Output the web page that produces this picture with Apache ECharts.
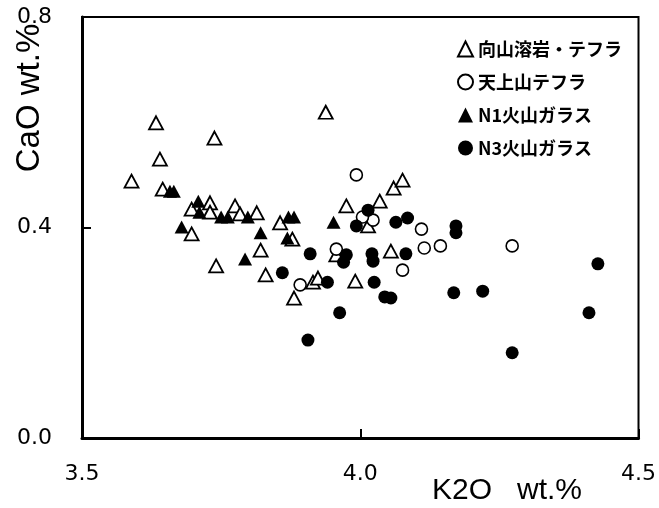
<!DOCTYPE html>
<html>
<head>
<meta charset="utf-8">
<script src="https://cdn.jsdelivr.net/npm/echarts@6/dist/echarts.min.js"></script>
<style>
html,body{margin:0;padding:0;background:#fff;}
#chart{width:659px;height:508px;}
</style>
</head>
<body>
<div id="chart"></div>
<script>
// Series names (legend)
const seriesNames = ['向山溶岩・テフラ', '天上山テフラ', 'N1火山ガラス', 'N3火山ガラス'];

// [K2O wt.%, CaO wt.%]
const mukaiyama = [
  [3.589,0.488],[3.633,0.599],[3.640,0.530],[3.645,0.473],[3.738,0.570],[3.938,0.619],
  [3.697,0.435],[3.730,0.447],[3.730,0.429],[3.775,0.441],[3.784,0.426],[3.814,0.428],
  [3.856,0.409],[3.878,0.378],[3.697,0.388],[3.821,0.357],[3.741,0.327],[3.830,0.310],
  [3.881,0.266],[3.915,0.296],[3.924,0.304],[3.975,0.441],[4.035,0.450],[4.060,0.475],
  [4.076,0.490],[4.014,0.403],[4.055,0.355],[3.957,0.348],[3.991,0.298]
];
const tenjosan = [
  [3.993,0.500],[4.023,0.414],[4.004,0.420],[4.110,0.397],[4.115,0.361],[4.144,0.365],
  [4.273,0.365],[4.076,0.319],[3.957,0.359],[3.892,0.291]
];
const n1Glass = [
  [3.658,0.469],[3.665,0.469],[3.709,0.450],[3.711,0.429],[3.750,0.420],[3.762,0.420],
  [3.798,0.420],[3.871,0.420],[3.881,0.420],[3.679,0.401],[3.821,0.390],[3.869,0.380],
  [3.793,0.340],[3.952,0.410]
];
const n3Glass = [
  [4.014,0.433],[3.993,0.403],[4.064,0.410],[4.085,0.418],[4.172,0.403],[4.172,0.390],
  [3.910,0.350],[3.975,0.348],[3.970,0.334],[4.021,0.350],[4.023,0.336],[4.082,0.350],
  [3.860,0.314],[3.941,0.296],[4.025,0.296],[4.044,0.268],[4.055,0.266],[3.963,0.238],
  [3.906,0.186],[4.168,0.276],[4.220,0.279],[4.273,0.162],[4.411,0.238],[4.427,0.331]
];

const xTicks = { min: 3.5, max: 4.5, interval: 0.5 };
const yTicks = { min: 0.0, max: 0.8, interval: 0.4 };

const chart = echarts.init(document.getElementById('chart'), null, {renderer: 'canvas'});
const tickFont = { fontFamily: 'DejaVu Sans', fontSize: 22, color: '#000' };

chart.setOption({
  animation: false,
  backgroundColor: '#fff',
  grid: { left: 82, right: 13, top: 17, bottom: 70, show: true, borderColor: '#000', borderWidth: 2, backgroundColor: 'transparent' },
  xAxis: {
    type: 'value', min: xTicks.min, max: xTicks.max, interval: xTicks.interval,
    axisLine: { show: true, onZero: false, lineStyle: { color: '#000', width: 3 } },
    axisTick: { show: true, inside: true, length: 9, lineStyle: { color: '#000', width: 2 } },
    splitLine: { show: false },
    axisLabel: Object.assign({ margin: 25, formatter: v => v.toFixed(1) }, tickFont)
  },
  yAxis: {
    type: 'value', min: yTicks.min, max: yTicks.max, interval: yTicks.interval,
    axisLine: { show: true, onZero: false, lineStyle: { color: '#000', width: 3 } },
    axisTick: { show: true, inside: true, length: 9, lineStyle: { color: '#000', width: 2 } },
    splitLine: { show: false },
    axisLabel: Object.assign({ margin: 30, formatter: v => v.toFixed(1) }, tickFont)
  },
  legend: {
    orient: 'vertical', left: 452, top: 34, itemWidth: 15, itemHeight: 15, itemGap: 13,
    data: seriesNames,
    textStyle: { fontFamily: 'Noto Sans CJK JP', fontSize: 18, fontWeight: 'bold', color: '#000', lineHeight: 20 }
  },
  graphic: [
    { type: 'text', x: 30, y: 98, rotation: Math.PI / 2,
      style: { text: 'CaO wt.%', font: '33px "Liberation Sans"', fill: '#000', textAlign: 'center', textVerticalAlign: 'middle' } },
    { type: 'text', x: 432, y: 491,
      style: { text: 'K2O   wt.%', font: '30px "Liberation Sans"', fill: '#000', textAlign: 'left', textVerticalAlign: 'middle' } }
  ],
  series: [
    { name: seriesNames[0], type: 'scatter', data: mukaiyama, symbol: 'triangle', symbolSize: [14, 13],
      itemStyle: { color: '#fff', borderColor: '#000', borderWidth: 1.8, opacity: 1 } },
    { name: seriesNames[1], type: 'scatter', data: tenjosan, symbol: 'circle', symbolSize: 12,
      itemStyle: { color: '#fff', borderColor: '#000', borderWidth: 1.6, opacity: 1 } },
    { name: seriesNames[2], type: 'scatter', data: n1Glass, symbol: 'triangle', symbolSize: [14, 13],
      itemStyle: { color: '#000', borderColor: '#000', borderWidth: 0, opacity: 1 } },
    { name: seriesNames[3], type: 'scatter', data: n3Glass, symbol: 'circle', symbolSize: 13,
      itemStyle: { color: '#000', borderColor: '#000', borderWidth: 0, opacity: 1 } }
  ]
});
</script>
</body>
</html>
